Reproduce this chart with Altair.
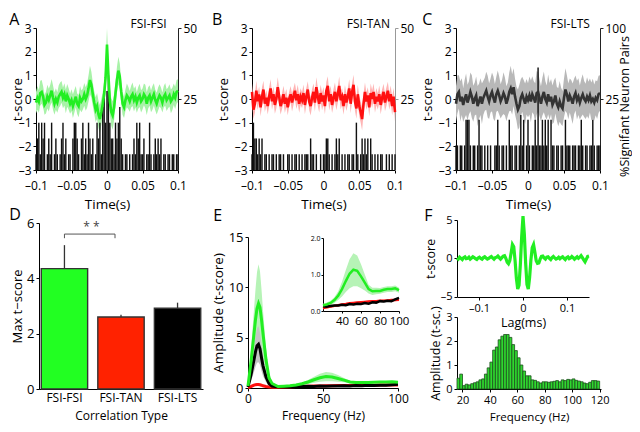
import altair as alt
import pandas as pd

W, H = 624, 416
FONT = "Open Sans"

# ---------------- data ----------------
t_top = [round(-0.1 + 0.002 * i, 3) for i in range(101)]

A_mean = [-0.15, 0.05, -0.10, 0.25, 0.30, 0.10, -0.25, -0.15, 0.10, -0.05,
          0.15, 0.35, 0.05, -0.20, 0.00, -0.15, 0.10, 0.20, 0.30, 0.05,
          0.20, -0.10, 0.15, 0.00, -0.20, -0.05, -0.30, -0.10, 0.10, -0.20,
          -0.30, 0.05, -0.10, 0.00, 0.20, 0.00, 0.15, 0.45, 0.80, 0.60,
          0.20, -0.15, -0.45, -0.30, -0.65, -0.85, -0.55, -0.20, 0.20, 0.90,
          2.30, 1.00, -0.10, -0.55, -0.70, -0.35, 0.25, 0.80, 1.20, 0.95,
          0.30, -0.20, -0.35, -0.05, 0.15, 0.05, -0.10, 0.10, 0.20, -0.05,
          0.10, -0.15, 0.05, 0.15, -0.10, 0.00, 0.20, 0.10, -0.20, 0.05,
          0.15, -0.10, 0.05, 0.20, -0.05, -0.20, 0.00, 0.15, 0.05, -0.15,
          0.10, 0.20, -0.05, 0.05, 0.15, -0.10, 0.00, 0.20, 0.05, 0.30,
          0.35]
A_sem = [0.45, 0.50, 0.48, 0.52, 0.50, 0.45, 0.42, 0.46, 0.50, 0.48,
         0.44, 0.50, 0.52, 0.47, 0.45, 0.43, 0.48, 0.50, 0.46, 0.44,
         0.47, 0.50, 0.48, 0.45, 0.42, 0.46, 0.50, 0.48, 0.45, 0.43,
         0.47, 0.50, 0.46, 0.44, 0.48, 0.50, 0.52, 0.55, 0.60, 0.55,
         0.50, 0.48, 0.52, 0.55, 0.58, 0.60, 0.55, 0.50, 0.55, 0.60,
         0.70, 0.62, 0.55, 0.58, 0.60, 0.55, 0.50, 0.55, 0.58, 0.55,
         0.50, 0.48, 0.45, 0.46, 0.50, 0.47, 0.44, 0.46, 0.50, 0.48,
         0.45, 0.43, 0.46, 0.49, 0.47, 0.44, 0.46, 0.50, 0.48, 0.45,
         0.43, 0.46, 0.50, 0.47, 0.44, 0.46, 0.49, 0.47, 0.44, 0.42,
         0.45, 0.48, 0.46, 0.44, 0.47, 0.50, 0.48, 0.45, 0.47, 0.50,
         0.48]
A_pairs = [1, 2, 3, 1, 3, 2, 3, 0, 1, 2,
           1, 3, 0, 1, 2, 1, 0, 1, 2, 3,
           1, 2, 0, 1, 1, 0, 2, 3, 3, 2,
           1, 0, 2, 3, 1, 2, 1, 3, 2, 1,
           2, 0, 1, 3, 2, 3, 1, 4, 5, 3,
           5, 6, 3, 2, 2, 1, 3, 2, 3, 4,
           2, 1, 0, 1, 1, 0, 1, 0, 1, 2,
           1, 3, 2, 3, 1, 1, 2, 0, 1, 1,
           3, 1, 0, 1, 2, 1, 2, 1, 2, 0,
           1, 1, 0, 1, 1, 0, 1, 1, 0, 1,
           1]

B_mean = [0.30, -0.45, -0.20, 0.35, -0.10, 0.20, -0.35, 0.10, 0.40, -0.20,
          0.05, -0.30, 0.10, 0.45, -0.10, 0.20, -0.25, 0.00, 0.50, 0.10,
          -0.30, -0.10, 0.20, -0.20, 0.05, -0.35, 0.00, 0.20, -0.15, 0.10,
          0.35, -0.05, 0.20, -0.20, 0.10, -0.05, 0.25, -0.25, 0.10, 0.40,
          -0.10, -0.30, 0.05, 0.30, -0.15, 0.50, 0.10, -0.20, 0.25, -0.10,
          0.15, -0.30, 0.35, 0.55, -0.10, 0.20, -0.25, 0.05, 0.30, -0.10,
          0.20, 0.55, -0.05, 0.10, -0.30, 0.20, -0.15, 0.10, 0.45, -0.20,
          0.30, 0.60, -0.10, -0.40, 0.20, -0.30, -0.55, -0.85, -0.20, 0.30,
          -0.10, 0.15, -0.35, 0.25, 0.00, 0.30, -0.20, 0.10, -0.10, 0.20,
          -0.25, 0.05, 0.30, -0.15, 0.10, 0.35, -0.10, 0.20, -0.30, 0.10,
          -0.55]
B_sem = [0.35, 0.40, 0.38, 0.42, 0.36, 0.33, 0.38, 0.40, 0.37, 0.35,
         0.32, 0.36, 0.40, 0.38, 0.35, 0.33, 0.37, 0.40, 0.42, 0.38,
         0.35, 0.33, 0.36, 0.39, 0.37, 0.34, 0.32, 0.35, 0.38, 0.36,
         0.34, 0.37, 0.40, 0.38, 0.35, 0.33, 0.36, 0.39, 0.37, 0.35,
         0.38, 0.40, 0.37, 0.35, 0.39, 0.42, 0.40, 0.37, 0.35, 0.38,
         0.36, 0.34, 0.38, 0.41, 0.39, 0.36, 0.34, 0.37, 0.40, 0.38,
         0.36, 0.40, 0.38, 0.35, 0.37, 0.39, 0.36, 0.34, 0.38, 0.40,
         0.38, 0.42, 0.40, 0.43, 0.40, 0.42, 0.45, 0.48, 0.42, 0.40,
         0.37, 0.35, 0.38, 0.40, 0.37, 0.35, 0.38, 0.36, 0.34, 0.37,
         0.39, 0.36, 0.34, 0.37, 0.40, 0.38, 0.35, 0.37, 0.39, 0.36,
         0.40]
B_pairs = [1, 3, 2, 2, 1, 2, 1, 2, 0, 1,
           1, 0, 1, 0, 1, 1, 0, 1, 0, 1,
           1, 0, 1, 0, 0, 1, 1, 0, 1, 0,
           1, 1, 0, 1, 0, 1, 0, 1, 1, 1,
           0, 2, 1, 1, 0, 1, 0, 0, 1, 0,
           1, 1, 2, 2, 1, 0, 1, 0, 1, 2,
           1, 2, 0, 1, 0, 1, 0, 1, 1, 0,
           1, 1, 0, 3, 1, 0, 1, 2, 1, 2,
           1, 2, 0, 2, 1, 0, 1, 0, 1, 0,
           1, 1, 0, 0, 1, 0, 1, 0, 1, 0,
           1]
N_PAIRS = 18  # pairs per group for A and B

C_mean = [-0.20, 0.20, 0.30, -0.10, 0.10, -0.25, 0.00, 0.20, -0.15, 0.05,
          0.30, 0.10, -0.20, 0.00, 0.15, -0.30, -0.10, 0.10, -0.20, 0.05,
          0.20, 0.35, 0.10, -0.10, 0.15, 0.30, 0.05, -0.15, 0.20, 0.35,
          0.15, -0.10, 0.05, 0.25, 0.10, -0.20, 0.00, 0.30, 0.45, 0.20,
          0.50, 0.10, -0.20, -0.45, -0.30, 0.05, 0.20, 0.00, -0.20, 0.10,
          -0.05, 0.15, -0.10, 0.20, 0.05, -0.15, 0.25, 0.30, 0.05, -0.20,
          0.10, 0.30, 0.00, -0.15, 0.20, -0.10, 0.10, -0.25, -0.10, 0.15,
          -0.20, -0.35, -0.10, -0.30, -0.40, 0.05, 0.40, 0.20, -0.10, 0.15,
          0.00, -0.20, 0.10, 0.25, -0.05, 0.10, -0.15, 0.05, 0.20, 0.00,
          -0.10, 0.10, -0.05, 0.15, -0.10, 0.00, -0.15, 0.05, -0.05, 0.20,
          0.25]
C_sem = [0.75, 0.80, 0.70, 0.85, 0.78, 0.72, 0.80, 0.88, 0.75, 0.70,
         0.82, 0.90, 0.76, 0.70, 0.80, 0.85, 0.74, 0.78, 0.86, 0.72,
         0.70, 0.80, 0.88, 0.75, 0.72, 0.82, 0.90, 0.78, 0.74, 0.85,
         0.80, 0.72, 0.76, 0.88, 0.80, 0.74, 0.70, 0.82, 0.95, 0.85,
         0.80, 0.76, 0.72, 0.85, 0.90, 0.78, 0.74, 0.80, 0.86, 0.75,
         0.72, 0.80, 0.88, 0.76, 0.70, 0.82, 0.92, 0.85, 0.78, 0.74,
         0.80, 0.86, 0.76, 0.72, 0.84, 0.78, 0.74, 0.82, 0.88, 0.76,
         0.72, 0.80, 0.86, 0.78, 0.74, 0.82, 0.90, 0.80, 0.76, 0.72,
         0.80, 0.86, 0.76, 0.74, 0.82, 0.78, 0.72, 0.80, 0.85, 0.76,
         0.74, 0.82, 0.78, 0.72, 0.80, 0.86, 0.76, 0.74, 0.80, 0.78,
         0.75]
C_pct = [3, 3, 0, 3, 3, 0, 3, 12.5, 12.5, 12.5,
         3, 0, 3, 3, 0, 3, 12.5, 3, 3, 0,
         3, 0, 3, 0, 3, 0, 0, 3, 3, 12.5,
         3, 0, 3, 3, 0, 3, 0, 12.5, 3, 3,
         0, 3, 3, 0, 3, 15, 3, 12.5, 0, 3,
         12.5, 3, 0, 3, 3, 12.5, 3, 52, 3, 3,
         12.5, 3, 12.5, 3, 12.5, 0, 12.5, 3, 3, 0,
         3, 3, 0, 3, 3, 0, 12.5, 3, 3, 3,
         0, 3, 3, 3, 0, 3, 3, 12.5, 3, 0,
         3, 3, 0, 3, 3, 12.5, 3, 0, 3, 3,
         3]

# D: max t-score
D_types = ["FSI-FSI", "FSI-TAN", "FSI-LTS"]
D_vals = [4.35, 2.6, 2.92]
D_err = [0.85, 0.08, 0.2]
D_colors = ["#22ff22", "#ff2200", "#000000"]

# E: spectra
E_freq = [0, 2, 4, 5, 6, 7, 8, 9, 10, 12, 14, 16, 18, 20, 24, 28, 32, 36, 40, 44,
          48, 52, 56, 60, 64, 68, 72, 76, 80, 84, 88, 92, 96, 100]
E_green = [0.2, 2.6, 5.4, 6.8, 7.9, 8.4, 8.0, 6.8, 5.4, 2.8, 1.0, 0.45, 0.3, 0.15, 0.18, 0.22, 0.3, 0.42, 0.6, 0.82,
           1.02, 1.13, 1.1, 0.95, 0.78, 0.6, 0.54, 0.55, 0.55, 0.58, 0.6, 0.6, 0.62, 0.57]
E_green_sem = [0.1, 1.2, 2.4, 3.0, 3.6, 3.9, 3.6, 3.0, 2.3, 1.2, 0.5, 0.2, 0.1, 0.05, 0.05, 0.06, 0.08, 0.12, 0.2, 0.3,
               0.4, 0.45, 0.42, 0.33, 0.22, 0.12, 0.1, 0.09, 0.08, 0.08, 0.08, 0.08, 0.08, 0.07]
E_black = [0.1, 1.3, 2.8, 3.6, 4.2, 4.35, 3.9, 3.0, 2.2, 1.1, 0.45, 0.2, 0.15, 0.13, 0.12, 0.14, 0.15, 0.15, 0.17, 0.16,
           0.19, 0.18, 0.2, 0.19, 0.22, 0.2, 0.24, 0.23, 0.27, 0.26, 0.28, 0.27, 0.32, 0.36]
E_black_sem = [0.05, 0.6, 1.2, 1.5, 1.7, 1.8, 1.6, 1.3, 1.0, 0.5, 0.2, 0.08, 0.05, 0.03, 0.03, 0.03, 0.03, 0.03, 0.03, 0.03,
               0.03, 0.03, 0.03, 0.03, 0.03, 0.03, 0.03, 0.03, 0.03, 0.03, 0.03, 0.03, 0.03, 0.03]
E_red = [0.05, 0.15, 0.28, 0.33, 0.35, 0.35, 0.32, 0.28, 0.22, 0.15, 0.1, 0.08, 0.08, 0.08, 0.1, 0.12, 0.14, 0.16, 0.18, 0.19,
         0.21, 0.22, 0.23, 0.24, 0.25, 0.26, 0.27, 0.27, 0.28, 0.28, 0.29, 0.3, 0.3, 0.31]
E_red_sem = [0.02, 0.05, 0.08, 0.08, 0.08, 0.08, 0.08, 0.07, 0.06, 0.05, 0.04, 0.03, 0.03, 0.03, 0.03, 0.03, 0.03, 0.03, 0.03, 0.03,
             0.03, 0.03, 0.03, 0.03, 0.03, 0.03, 0.03, 0.03, 0.03, 0.03, 0.03, 0.03, 0.03, 0.03]

# F top: example cross-correlation
F_lag = [round(-0.15 + 0.003 * j, 3) for j in range(101)]
F_t = [0.05, -0.10, 0.15, 0.00, -0.15, 0.10, 0.20, -0.05, 0.00, 0.15,
       -0.10, 0.05, 0.20, 0.10, -0.05, -0.15, 0.05, 0.15, 0.00, -0.10,
       0.10, 0.20, 0.05, -0.10, 0.00, 0.15, 0.25, 0.05, -0.10, 0.10,
       0.15, 0.30, 0.10, -0.10, 0.10, 0.30, 0.35, 0.00, -0.50, -0.70,
       -0.30, 0.70, 1.80, 1.50, -0.30, -2.60, -4.00, -3.50, -0.80, 2.80,
       5.50, 3.20, -0.60, -3.40, -4.00, -2.50, -0.20, 1.40, 1.80, 0.80,
       -0.30, -0.65, -0.60, -0.10, 0.25, 0.30, 0.05, -0.10, 0.15, 0.20,
       0.00, -0.15, 0.10, 0.25, 0.05, -0.10, 0.00, 0.15, -0.05, 0.10,
       0.20, 0.00, -0.15, 0.10, 0.20, -0.05, 0.05, 0.25, 0.10, -0.10,
       0.05, 0.20, 0.00, 0.15, 0.35, 0.10, -0.20, -0.45, -0.10, 0.25,
       0.30]

# F bottom: spectrum histogram (2 Hz bins)
F_bin_lo = list(range(16, 120, 2))
F_amp = [0.45, 0.62, 0.14, 0.20, 0.17, 0.22, 0.26, 0.30, 0.38, 0.42,
         0.62, 0.88, 1.12, 1.62, 1.75, 2.05, 2.20, 2.27, 2.27, 2.15,
         1.85, 1.60, 1.30, 1.00, 0.75, 0.55, 0.55, 0.38, 0.36, 0.30,
         0.25, 0.30, 0.30, 0.28, 0.30, 0.32, 0.35, 0.30, 0.38, 0.35,
         0.40, 0.38, 0.42, 0.36, 0.33, 0.30, 0.25, 0.22, 0.28, 0.35,
         0.35, 0.33]

letters = ["A", "B", "C", "D", "E", "F"]
letter_fx = [0.002, 0.327, 0.664, 0.002, 0.329, 0.667]
letter_fy = [0.01, 0.01, 0.01, 0.478, 0.481, 0.481]

DASH = "replace(datum.label, '\u2212', '\u2013')"


# ---------------- helpers ----------------
def lin(domain, rng, **kw):
    return alt.Scale(domain=domain, range=rng, nice=False, zero=False, **kw)


def ax(**kw):
    base = dict(grid=False, labelFlush=False, labelOverlap=False)
    base.update(kw)
    return alt.Axis(**base)


layers = []


def top_panel(title, title_x, mean, sem, pct, xr, line_color, band_color, rscale, rvals,
              rtitle, rcolor, ytitle_x=None):
    xs = lin([-0.1, 0.1], xr)
    ys = lin([-3, 3], [162, 20])
    df = pd.DataFrame({"t": t_top, "m": mean, "s": sem})
    df["lo"] = df["m"] - df["s"]
    df["hi"] = df["m"] + df["s"]
    bars = pd.DataFrame({"t0": [t - 0.001 for t in t_top], "t1": [t + 0.001 for t in t_top],
                         "p": pct, "z": [0.0] * len(t_top)})
    bars = bars[bars["p"] > 0]
    band = alt.Chart(df).mark_area(color=band_color).encode(
        x=alt.X("t:Q", scale=xs, axis=None),
        y=alt.Y("lo:Q", scale=ys, axis=None), y2="hi:Q")
    raxis = dict(orient="right", offset=xr[1] - W, values=rvals, domainColor=rcolor,
                 tickColor=rcolor)
    if rtitle:
        raxis.update(title=rtitle, titleAngle=270, titleBaseline="middle", titleAlign="center",
                     titleX=24, titleY=98, titleFontSize=12.5)
    else:
        raxis.update(title=None)
    bar = alt.Chart(bars).mark_rect(color="#111111").encode(
        x=alt.X("t0:Q", scale=xs, axis=None), x2="t1:Q",
        y=alt.Y("p:Q", scale=rscale, axis=ax(**raxis)), y2="z:Q")
    yax = dict(orient="left", offset=-xr[0], values=[-3, -2, -1, 0, 1, 2, 3],
               format="d", title="t-score", labelExpr=DASH, titlePadding=4)
    if ytitle_x is not None:
        yax.update(titleX=ytitle_x, titleBaseline="middle", titleAngle=270, titleAlign="center",
                   titleY=91)
    line = alt.Chart(df).mark_line(color=line_color, strokeWidth=2.6).encode(
        x=alt.X("t:Q", scale=xs,
                axis=ax(orient="bottom", offset=162 - H, values=[-0.1, -0.05, 0, 0.05, 0.1],
                        format=".2~f", title="Time(s)", labelExpr=DASH, labelPadding=7,
                        titlePadding=6)),
        y=alt.Y("m:Q", scale=ys, axis=ax(**yax)))
    txt = alt.Chart(pd.DataFrame({"x": [title_x], "y": [3.17], "s": [title]})).mark_text(
        align="right", baseline="middle", fontSize=12, font=FONT, color="black").encode(
        x=alt.X("x:Q", scale=xs, axis=None), y=alt.Y("y:Q", scale=ys, axis=None), text="s:N")
    return [band, bar, line, txt]


pctA = [c * 100.0 / N_PAIRS for c in A_pairs]
pctB = [c * 100.0 / N_PAIRS for c in B_pairs]

layers += top_panel("FSI-FSI", 0.084, A_mean, A_sem, pctA, [28, 170], "#22ee22", "#a8f2a8",
                    lin([0, 50], [162, 20]), [25, 50], None, "#222222", ytitle_x=-19)
layers += top_panel("FSI-TAN", 0.093, B_mean, B_sem, pctB, [244, 387], "#ff1010", "#ffb4b4",
                    lin([0, 50], [162, 20]), [25, 50], None, "#999999")
layers += top_panel("FSI-LTS", 0.086, C_mean, C_sem, C_pct, [448, 592], "#333333", "#b8b8b8",
                    alt.Scale(type="sqrt", domain=[0, 100], range=[162, 20], nice=False, zero=True),
                    [25, 100], "%Signifant Neuron Pairs", "#222222")

# ---------------- D ----------------
dfD = pd.DataFrame({"type": D_types, "val": D_vals, "err": D_err, "z": [0.0] * 3})
dfD["top"] = dfD["val"] + dfD["err"]
xsD = alt.Scale(domain=D_types, range=[31, 195], paddingInner=0.18, paddingOuter=0.04)
ysD = lin([0, 6], [381, 215])
layers.append(alt.Chart(dfD).mark_bar(stroke="#333333", strokeWidth=1.4).encode(
    x=alt.X("type:N", scale=xsD, sort=D_types,
            axis=ax(orient="bottom", offset=381 - H, title="Correlation Type", labelAngle=0,
                    ticks=False, labelPadding=3, titlePadding=7, labelFontSize=12,
                    titleFontSize=12)),
    y=alt.Y("val:Q", scale=ysD,
            axis=ax(orient="left", offset=-31, values=[0, 2, 4, 6], format="d",
                    title="Max t\u2212score", labelFontSize=13, titlePadding=2,
                    titleFontSize=13)),
    y2="z:Q",
    color=alt.Color("type:N", scale=alt.Scale(domain=D_types, range=D_colors), legend=None)))
layers.append(alt.Chart(dfD).mark_rule(color="#333333", strokeWidth=1.3).encode(
    x=alt.X("type:N", scale=xsD, axis=None),
    y=alt.Y("val:Q", scale=ysD, axis=None), y2="top:Q"))
dfBr = pd.DataFrame({"a": ["FSI-FSI"], "b": ["FSI-TAN"], "y": [5.6], "y2": [5.45], "s": ["* *"]})
layers.append(alt.Chart(dfBr).mark_rule(color="#555555", strokeWidth=1, x2Offset=-6).encode(
    x=alt.X("a:N", scale=xsD, axis=None), x2="b:N",
    y=alt.Y("y:Q", scale=ysD, axis=None)))
layers.append(alt.Chart(dfBr).mark_rule(color="#555555", strokeWidth=1).encode(
    x=alt.X("a:N", scale=xsD, axis=None),
    y=alt.Y("y:Q", scale=ysD, axis=None), y2="y2:Q"))
layers.append(alt.Chart(dfBr).mark_rule(color="#555555", strokeWidth=1, xOffset=-6).encode(
    x=alt.X("b:N", scale=xsD, axis=None),
    y=alt.Y("y:Q", scale=ysD, axis=None), y2="y2:Q"))
layers.append(alt.Chart(dfBr).mark_text(color="#444444", fontSize=12, font=FONT, dx=25,
                                        baseline="middle").encode(
    x=alt.X("a:N", scale=xsD, axis=None),
    y=alt.Y("y:Q", scale=ysD, axis=None), text="s:N", yOffset=alt.value(-7)))

# ---------------- E ----------------
dfE = pd.DataFrame({"f": E_freq, "g": E_green, "gs": E_green_sem, "k": E_black, "ks": E_black_sem,
                    "r": E_red, "rs": E_red_sem})
for c in ["g", "k", "r"]:
    dfE[c + "lo"] = dfE[c] - dfE[c + "s"]
    dfE[c + "hi"] = dfE[c] + dfE[c + "s"]


def spectrum(xs, ys, xaxis, yaxis, width, inset=False):
    src = alt.Chart(dfE)
    if inset:
        src = src.transform_filter("datum.f >= 20")
    out = []
    for c, col in [("g", "#b6f3b6"), ("k", "#c4c4c4"), ("r", "#ffc0c0")]:
        out.append(src.mark_area(color=col).encode(
            x=alt.X("f:Q", scale=xs, axis=None),
            y=alt.Y(c + "lo:Q", scale=ys, axis=None), y2=c + "hi:Q"))
    out.append(src.mark_line(color="#ff1010", strokeWidth=width).encode(
        x=alt.X("f:Q", scale=xs, axis=None), y=alt.Y("r:Q", scale=ys, axis=None)))
    out.append(src.mark_line(color="#000000", strokeWidth=width).encode(
        x=alt.X("f:Q", scale=xs, axis=None), y=alt.Y("k:Q", scale=ys, axis=None)))
    out.append(src.mark_line(color="#22ee22", strokeWidth=width).encode(
        x=alt.X("f:Q", scale=xs, axis=xaxis), y=alt.Y("g:Q", scale=ys, axis=yaxis)))
    return out


layers += spectrum(lin([0, 100], [240, 390]), lin([0, 15], [380, 229]),
                   ax(orient="bottom", offset=380 - H, values=[0, 50, 100], title="Frequency (Hz)",
                      labelFontSize=12, titlePadding=6, titleFontSize=12),
                   ax(orient="left", offset=-240, values=[0, 5, 10, 15], title="Amplitude (t-score)",
                      labelFontSize=13), 3)
layers += spectrum(lin([20, 100], [315, 391]), lin([0, 2], [303, 230]),
                   ax(orient="bottom", offset=303 - H, values=[40, 60, 80, 100], title=None,
                      labelFontSize=11.5, tickSize=2),
                   ax(orient="left", offset=-315, values=[0, 1, 2], title=None,
                      labelFontSize=7, tickSize=2, labelPadding=1), 2.5, inset=True)

# ---------------- F ----------------
dfF = pd.DataFrame({"lag": F_lag, "t": F_t})
layers.append(alt.Chart(dfF).mark_line(color="#22ee22", strokeWidth=3.2).encode(
    x=alt.X("lag:Q", scale=lin([-0.15, 0.15], [449, 581]),
            axis=ax(orient="bottom", offset=-127, values=[-0.1, 0, 0.1], format=".1~f",
                    title="Lag(ms)", labelFontSize=11, titleFontSize=12.5, titlePadding=3,
                    labelExpr=DASH)),
    y=alt.Y("t:Q", scale=lin([-5, 5], [288.7, 212]),
            axis=ax(orient="left", offset=-449, values=[-5, 0, 5], format="d", title="t-score",
                    labelFontSize=11, titleFontSize=12.5, labelExpr=DASH))))
dfH = pd.DataFrame({"f0": F_bin_lo, "f1": [f + 2 for f in F_bin_lo], "a": F_amp,
                    "z": [0.0] * len(F_bin_lo)})
layers.append(alt.Chart(dfH).mark_rect(fill="#2fd82f", stroke="#1d4d1d", strokeWidth=0.8).encode(
    x=alt.X("f0:Q", scale=lin([16, 121], [449, 593]),
            axis=ax(orient="bottom", offset=381 - H, values=[20, 40, 60, 80, 100, 120],
                    title="Frequency (Hz)", labelFontSize=11, titleFontSize=11.5, titlePadding=6)),
    x2="f1:Q",
    y=alt.Y("a:Q", scale=lin([0, 3], [381, 309]),
            axis=ax(orient="left", offset=-449, values=[0, 1, 2, 3], format="d",
                    title="Amplitude (t-sc.)", labelFontSize=11, titleFontSize=12.5)),
    y2="z:Q"))

# ---------------- panel letters ----------------
dfL = pd.DataFrame({"fx": letter_fx, "fy": letter_fy, "s": letters})
layers.append(alt.Chart(dfL).mark_text(align="left", baseline="top", fontSize=16, font=FONT,
                                       color="black").encode(
    x=alt.X("fx:Q", scale=lin([0, 1], [0, W]), axis=None),
    y=alt.Y("fy:Q", scale=lin([0, 1], [0, H]), axis=None), text="s:N"))

chart = alt.layer(*layers).resolve_scale(
    x="independent", y="independent", color="independent"
).resolve_axis(x="independent", y="independent").properties(
    width=W, height=H, padding=0, autosize=alt.AutoSizeParams(type="none")
).configure_view(stroke=None).configure_axis(
    labelFont=FONT, titleFont=FONT, labelFontSize=12, titleFontSize=13.5,
    titleFontWeight="normal", labelColor="black", titleColor="black",
    domainColor="black", tickColor="black", tickSize=3, labelPadding=2, titlePadding=3
)

chart.save("out.html", embed_options={"renderer": "svg", "actions": False})
